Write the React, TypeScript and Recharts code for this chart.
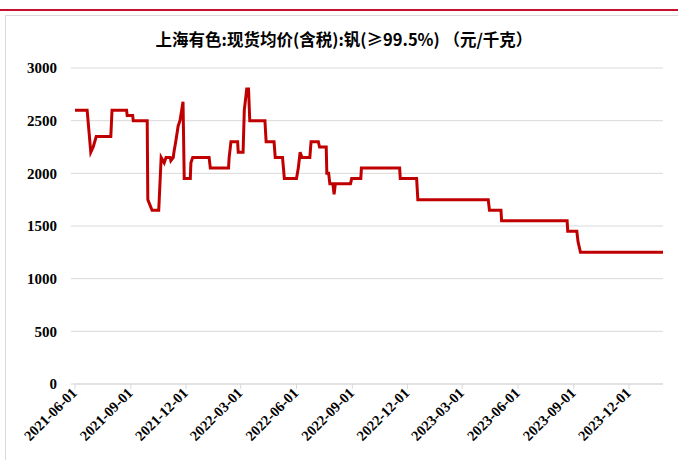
import { CartesianGrid, Line, LineChart, XAxis, YAxis } from "recharts";

const dates = [
  "2021-06-01", "2021-06-21", "2021-06-24", "2021-06-27", "2021-07-01", "2021-07-06",
  "2021-07-30", "2021-08-01", "2021-08-25", "2021-08-26", "2021-09-04", "2021-09-05",
  "2021-09-28", "2021-09-29", "2021-10-06", "2021-10-17", "2021-10-21", "2021-10-26",
  "2021-10-29", "2021-11-05", "2021-11-06", "2021-11-10", "2021-11-11", "2021-11-14",
  "2021-11-18", "2021-11-21", "2021-11-26", "2021-11-28", "2021-12-08", "2021-12-09",
  "2021-12-12", "2022-01-08", "2022-01-10", "2022-02-09", "2022-02-10", "2022-02-13",
  "2022-02-24", "2022-02-25", "2022-03-05", "2022-03-07", "2022-03-11", "2022-03-14",
  "2022-03-16", "2022-04-10", "2022-04-12", "2022-04-25", "2022-04-27", "2022-05-09",
  "2022-05-12", "2022-06-01", "2022-06-04", "2022-06-07", "2022-06-10", "2022-06-23",
  "2022-06-25", "2022-07-07", "2022-07-09", "2022-07-20", "2022-07-21", "2022-07-24",
  "2022-07-26", "2022-07-31", "2022-08-02", "2022-08-04", "2022-08-29", "2022-08-31",
  "2022-09-15", "2022-09-16", "2022-11-18", "2022-11-19", "2022-12-16", "2022-12-18",
  "2023-04-13", "2023-04-15", "2023-05-04", "2023-05-05", "2023-08-21", "2023-08-22",
  "2023-09-06", "2023-09-08", "2023-09-12", "2024-01-26",
];

const prices = [
  2600, 2600, 2400, 2200, 2250, 2350,
  2350, 2600, 2600, 2550, 2550, 2500,
  2500, 1750, 1650, 1650, 2150, 2100,
  2150, 2150, 2120, 2150, 2200, 2300,
  2450, 2500, 2680, 1950, 1950, 2100,
  2150, 2150, 2050, 2050, 2150, 2300,
  2300, 2200, 2200, 2600, 2800, 2800,
  2500, 2500, 2300, 2300, 2150, 2150,
  1950, 1950, 2050, 2200, 2150, 2150,
  2300, 2300, 2250, 2250, 2000, 2000,
  1900, 1900, 1800, 1900, 1900, 1950,
  1950, 2050, 2050, 1950, 1950, 1750,
  1750, 1650, 1650, 1550, 1550, 1450,
  1450, 1350, 1250, 1250,
];

const tickDates = [
  "2021-06-01", "2021-09-01", "2021-12-01", "2022-03-01", "2022-06-01", "2022-09-01",
  "2022-12-01", "2023-03-01", "2023-06-01", "2023-09-01", "2023-12-01",
];

const yTicks = [0, 500, 1000, 1500, 2000, 2500, 3000];

const title = "上海有色:现货均价(含税):钒(≥99.5%) （元/千克）";

const toTs = (s: string) => Date.parse(s + "T00:00:00Z");

const data = dates.map((d, i) => ({ t: toTs(d), price: prices[i] }));

const serif = "'Liberation Serif', 'Times New Roman', serif";

function DateTick({ x, y, payload }: any) {
  const d = new Date(payload.value).toISOString().slice(0, 10);
  return (
    <text
      x={x}
      y={y}
      dy={4}
      transform={`rotate(-45 ${x} ${y})`}
      textAnchor="end"
      fontFamily={serif}
      fontWeight="bold"
      fontSize={14.5}
      fill="#000"
    >
      {d}
    </text>
  );
}

export default function App() {
  return (
    <div style={{ position: "absolute", left: 0, top: 0, width: 678, height: 460, background: "#fff" }}>
      <div style={{ position: "absolute", left: 0, top: 9, width: 678, height: 2, background: "#c8102e" }} />
      <div style={{ position: "absolute", left: 5, top: 15, width: 673, height: 1, background: "#d9d9d9" }} />
      <div style={{ position: "absolute", left: 5, top: 15, width: 1, height: 445, background: "#d9d9d9" }} />
      <div
        style={{
          position: "absolute",
          left: 0,
          top: 27,
          width: 688,
          textAlign: "center",
          fontFamily: "'Noto Sans CJK SC', sans-serif",
          fontWeight: "bold",
          fontSize: 16.5,
          color: "#000",
        }}
      >
        {title}
      </div>
      <div style={{ position: "absolute", left: 0, top: 0 }}>
        <LineChart width={678} height={460} data={data} margin={{ top: 68, right: 15, bottom: 0, left: 0 }}>
          <CartesianGrid vertical={false} stroke="#d9d9d9" />
          <XAxis
            dataKey="t"
            type="number"
            scale="time"
            domain={[toTs("2021-06-01"), toTs("2024-01-26")]}
            ticks={tickDates.map(toTs)}
            interval={0}
            height={76}
            axisLine={{ stroke: "#d9d9d9" }}
            tickLine={{ stroke: "#d9d9d9" }}
            tickSize={5}
            tick={<DateTick />}
          />
          <YAxis
            type="number"
            domain={[0, 3000]}
            ticks={yTicks}
            width={75}
            axisLine={false}
            tickLine={{ stroke: "#d9d9d9" }}
            tickSize={4}
            tickMargin={14}
            tick={{ fontFamily: serif, fontWeight: "bold", fontSize: 15, fill: "#000" }}
          />
          <Line
            type="linear"
            dataKey="price"
            stroke="#c00000"
            strokeWidth={3}
            dot={false}
            isAnimationActive={false}
          />
        </LineChart>
      </div>
    </div>
  );
}
